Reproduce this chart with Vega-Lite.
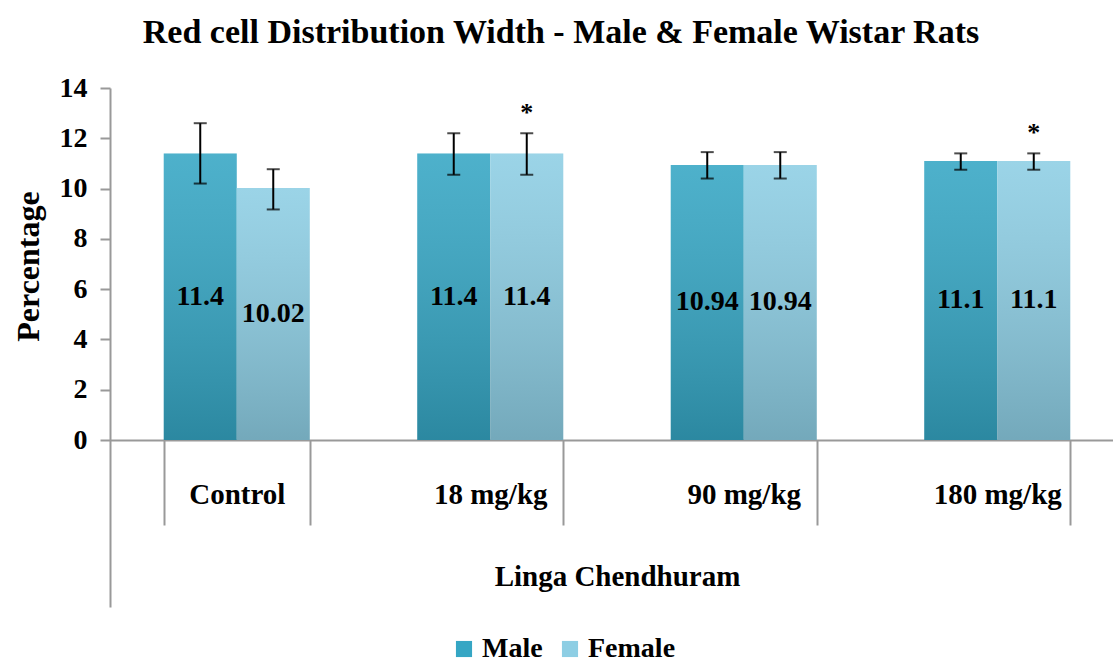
{
  "$schema": "https://vega.github.io/schema/vega-lite/v6.json",
  "width": 1014,
  "height": 519,
  "autosize": "none",
  "padding": {"left": 110, "top": 88, "right": 0, "bottom": 55},
  "background": "white",
  "config": {"font": "Times New Roman, Liberation Serif, serif", "view": {"stroke": null}},
  "title": {"text": "Red cell Distribution  Width - Male & Female Wistar Rats", "fontSize": 34, "fontWeight": "bold", "font": "Times New Roman, Liberation Serif, serif", "color": "black", "anchor": "middle", "dx": -56, "offset": 24},
  "data": {"values": [
    {"group": "Control", "sex": "Male", "value": 11.4, "lo": 10.2, "hi": 12.6, "sig": ""},
    {"group": "Control", "sex": "Female", "value": 10.02, "lo": 9.17, "hi": 10.77, "sig": ""},
    {"group": "18 mg/kg", "sex": "Male", "value": 11.4, "lo": 10.55, "hi": 12.2, "sig": ""},
    {"group": "18 mg/kg", "sex": "Female", "value": 11.4, "lo": 10.55, "hi": 12.2, "sig": "*"},
    {"group": "90 mg/kg", "sex": "Male", "value": 10.94, "lo": 10.4, "hi": 11.45, "sig": ""},
    {"group": "90 mg/kg", "sex": "Female", "value": 10.94, "lo": 10.4, "hi": 11.45, "sig": ""},
    {"group": "180 mg/kg", "sex": "Male", "value": 11.1, "lo": 10.75, "hi": 11.4, "sig": ""},
    {"group": "180 mg/kg", "sex": "Female", "value": 11.1, "lo": 10.75, "hi": 11.4, "sig": "*"}
  ]},
  "encoding": {
    "x": {"field": "group", "type": "nominal", "sort": ["Control", "18 mg/kg", "90 mg/kg", "180 mg/kg"],
      "scale": {"paddingInner": 0.424, "paddingOuter": 0.212},
      "title": "Linga Chendhuram",
      "axis": {"labelAngle": 0, "labelFontSize": 29, "labelFontWeight": "bold", "labelColor": "black",
        "tickBand": "extent", "tickSize": 85, "tickColor": "#999999", "tickWidth": 2, "domainColor": "#999999", "domainWidth": 2,
        "labelPadding": -45, "offset": -167, "titleFontSize": 29, "titleFontWeight": "bold", "titleColor": "black", "titlePadding": 36}},
    "xOffset": {"field": "sex", "type": "nominal", "scale": {"domain": ["Male", "Female"], "paddingInner": 0}}
  },
  "layer": [
    {
      "encoding": {
        "y": {"field": "value", "type": "quantitative", "scale": {"domain": [-6.64, 14], "nice": false, "zero": false},
          "title": "Percentage",
          "axis": {"values": [0, 2, 4, 6, 8, 10, 12, 14], "grid": false, "labelFontSize": 28, "labelFontWeight": "bold", "labelColor": "black",
            "tickSize": 10, "tickColor": "#999999", "tickWidth": 2, "domainColor": "#999999", "domainWidth": 2, "labelPadding": 13,
            "titleFontSize": 32, "titleFontWeight": "bold", "titleColor": "black", "titlePadding": 14, "titleY": 178}}
      },
      "layer": [
        {"mark": {"type": "bar"},
         "encoding": {"color": {"field": "sex", "type": "nominal", "scale": {"domain": ["Male", "Female"], "range": ["#35A6C4", "#8DCEE4"]},
           "legend": {"title": null, "orient": "none", "legendX": 340, "legendY": 547, "direction": "horizontal", "symbolType": "square", "symbolSize": 260,
             "labelFontSize": 28, "labelFontWeight": "bold", "labelColor": "black", "columnPadding": 13, "symbolStrokeWidth": 0}}}},
        {"mark": {"type": "bar", "fill": {"gradient": "linear", "x1": 0, "y1": 0, "x2": 0, "y2": 1,
           "stops": [{"offset": 0, "color": "rgba(255,255,255,0.12)"}, {"offset": 1, "color": "rgba(0,0,0,0.18)"}]}},
         "encoding": {}},
        {"mark": {"type": "rule", "strokeWidth": 2, "color": "black"},
         "encoding": {"y": {"field": "lo", "type": "quantitative"}, "y2": {"field": "hi"}}},
        {"mark": {"type": "tick", "orient": "horizontal", "size": 13, "thickness": 2, "color": "black"},
         "encoding": {"y": {"field": "lo", "type": "quantitative"}}},
        {"mark": {"type": "tick", "orient": "horizontal", "size": 13, "thickness": 2, "color": "black"},
         "encoding": {"y": {"field": "hi", "type": "quantitative"}}},
        {"mark": {"type": "text", "dy": -20, "fontSize": 26, "fontWeight": "bold", "baseline": "middle", "color": "black"},
         "encoding": {"y": {"field": "hi", "type": "quantitative"}, "text": {"field": "sig", "type": "nominal"}}}
      ]
    },
    {
      "mark": {"type": "text", "fontSize": 28, "fontWeight": "bold", "baseline": "middle", "color": "black"},
      "encoding": {
        "y": {"field": "value", "type": "quantitative", "scale": {"domain": [-13.28, 28], "nice": false, "zero": false}, "axis": null},
        "text": {"field": "value", "type": "nominal"}
      }
    }
  ],
  "resolve": {"scale": {"y": "independent"}}
}
